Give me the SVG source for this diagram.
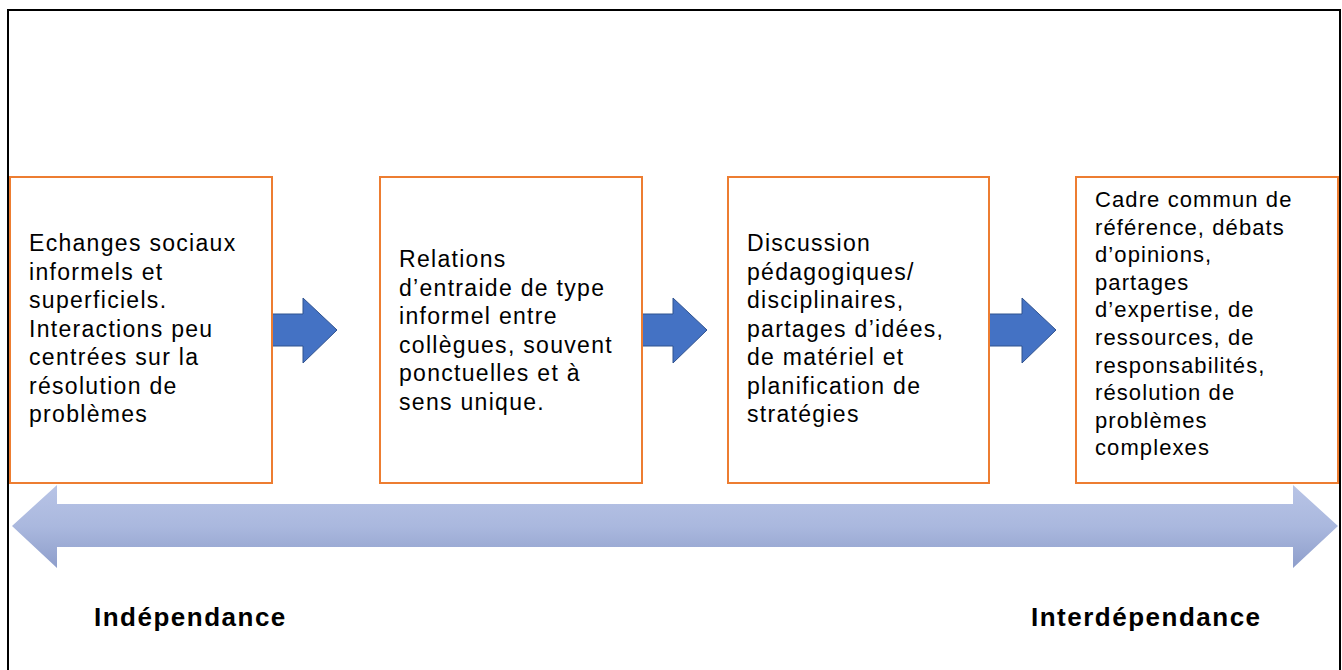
<svg xmlns="http://www.w3.org/2000/svg" width="1342" height="670" viewBox="0 0 1342 670">
<style>
.box{fill:#fff;stroke:#ED7D31;stroke-width:2}
.t{font-family:"Liberation Sans",Arial,sans-serif;font-size:23px;letter-spacing:1.3px;fill:#000}
.t4{font-family:"Liberation Sans",Arial,sans-serif;font-size:22px;letter-spacing:1.1px;fill:#000}
.lbl{font-family:"Liberation Sans",Arial,sans-serif;font-size:26px;font-weight:bold;letter-spacing:1.5px;fill:#000}
.arr{fill:#4472C4;stroke:#2F528F;stroke-width:1}
</style>
<defs>
<linearGradient id="g" x1="0" y1="0" x2="0" y2="1">
<stop offset="0" stop-color="#B8C4E6"/>
<stop offset="0.5" stop-color="#AAB8DE"/>
<stop offset="1" stop-color="#8E9ECB"/>
</linearGradient>
</defs>
<rect x="0" y="0" width="1342" height="670" fill="#fff"/>
<rect x="8" y="10" width="1332" height="680" fill="none" stroke="#000" stroke-width="2"/>
<g id="scale">
<path d="M12,526 L57,485 L57,504 L1293,504 L1293,485 L1338,526 L1293,568 L1293,547 L57,547 L57,568 Z" fill="url(#g)"/>
</g>
<g id="connectors">
<path class="arr" d="M272,314 L303,314 L303,298 L337,330 L303,363 L303,346 L272,346 Z"/>
<path class="arr" d="M642,314 L673,314 L673,298 L707,330 L673,363 L673,346 L642,346 Z"/>
<path class="arr" d="M989,314 L1022,314 L1022,298 L1056,330 L1022,363 L1022,346 L989,346 Z"/>
</g>
<g id="node1">
<rect class="box" x="10" y="177" width="262" height="306"/>
<text class="t"><tspan x="29" y="251">Echanges sociaux</tspan><tspan x="29" y="279.5">informels et</tspan><tspan x="29" y="308">superficiels.</tspan><tspan x="29" y="336.5">Interactions peu</tspan><tspan x="29" y="365">centrées sur la</tspan><tspan x="29" y="393.5">résolution de</tspan><tspan x="29" y="422">problèmes</tspan></text>
</g>
<g id="node2">
<rect class="box" x="380" y="177" width="262" height="306"/>
<text class="t"><tspan x="399" y="267">Relations</tspan><tspan x="399" y="295.5">d’entraide de type</tspan><tspan x="399" y="324">informel entre</tspan><tspan x="399" y="352.5">collègues, souvent</tspan><tspan x="399" y="381">ponctuelles et à</tspan><tspan x="399" y="409.5">sens unique.</tspan></text>
</g>
<g id="node3">
<rect class="box" x="728" y="177" width="261" height="306"/>
<text class="t"><tspan x="747" y="251">Discussion</tspan><tspan x="747" y="279.5">pédagogiques/</tspan><tspan x="747" y="308">disciplinaires,</tspan><tspan x="747" y="336.5">partages d’idées,</tspan><tspan x="747" y="365">de matériel et</tspan><tspan x="747" y="393.5">planification de</tspan><tspan x="747" y="422">stratégies</tspan></text>
</g>
<g id="node4">
<rect class="box" x="1076" y="177" width="262" height="306"/>
<text class="t4"><tspan x="1095" y="207">Cadre commun de</tspan><tspan x="1095" y="234.6">référence, débats</tspan><tspan x="1095" y="262.2">d’opinions,</tspan><tspan x="1095" y="289.8">partages</tspan><tspan x="1095" y="317.4">d’expertise, de</tspan><tspan x="1095" y="345">ressources, de</tspan><tspan x="1095" y="372.6">responsabilités,</tspan><tspan x="1095" y="400.2">résolution de</tspan><tspan x="1095" y="427.8">problèmes</tspan><tspan x="1095" y="455.4">complexes</tspan></text>
</g>
<g id="labels">
<text class="lbl" x="94" y="626">Indépendance</text>
<text class="lbl" x="1031" y="626">Interdépendance</text>
</g>
</svg>
